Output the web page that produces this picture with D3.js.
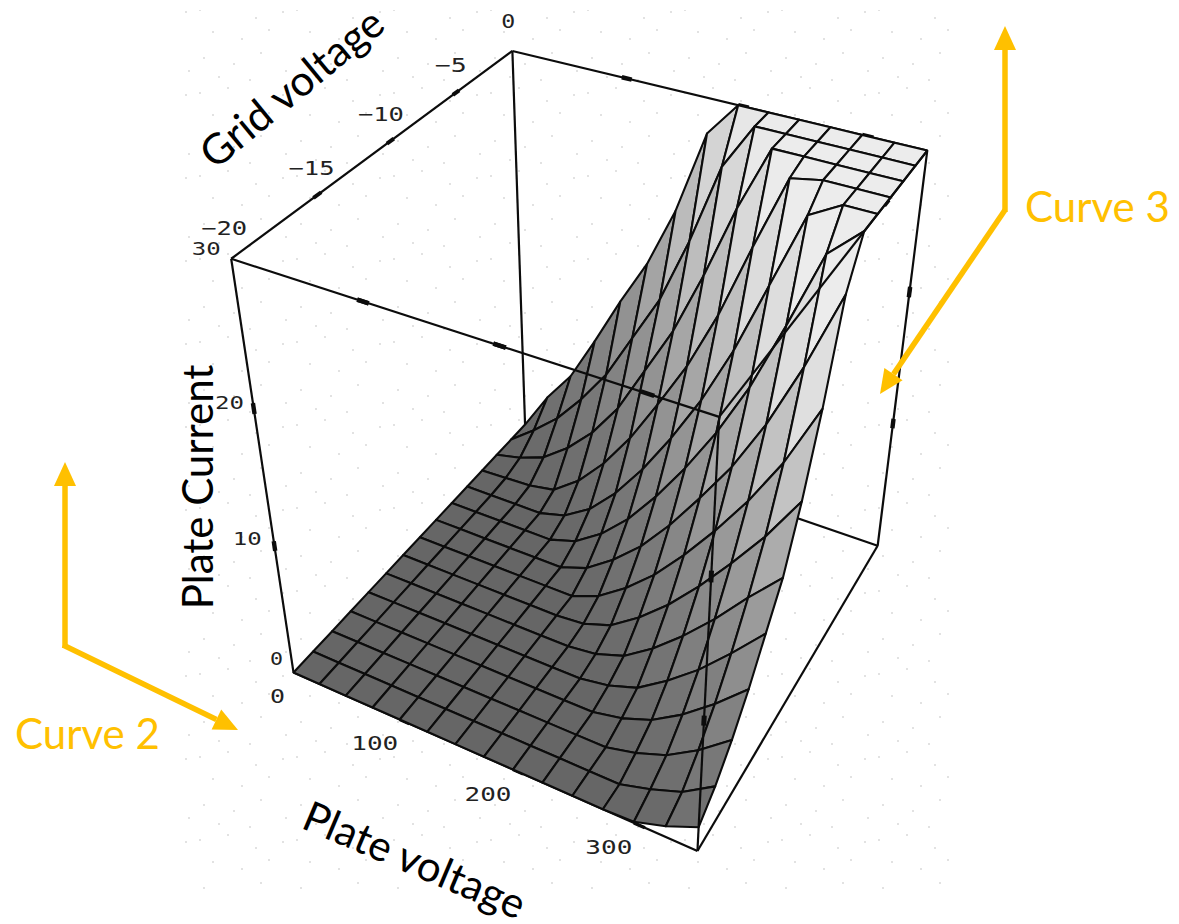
<!DOCTYPE html>
<html><head><meta charset="utf-8">
<script src="https://cdn.jsdelivr.net/npm/d3@7"></script>
<style>html,body{margin:0;padding:0;background:#fff}svg{display:block}</style>
</head><body><svg id="c" width="1179" height="924"></svg>
<script>
// ---- data ----
const plateVoltage = [0,25,50,75,100,125,150,175,200,225,250,275,300,325,350];
const gridVoltage = [-20,-18.57,-17.14,-15.71,-14.29,-12.86,-11.43,-10,-8.57,-7.14,-5.71,-4.29,-2.86,-1.43,0];
// plate current, one row per grid voltage (first row = -20 V, last row = 0 V)
const currentRows = [
 [0,0,0,0,0,0,0,0,0,0,0,0,0.1,0.9,2],
 [0,0,0,0,0,0,0,0,0,0,0,0,0.7,1.6,3.2],
 [0,0,0,0,0,0,0,0,0,0,0,0.6,1.5,3,4.9],
 [0,0,0,0,0,0,0,0,0,0,0.5,1.4,2.9,4.8,7],
 [0,0,0,0,0,0,0,0,0,0.4,1.2,2.8,4.7,7,9.5],
 [0,0,0,0,0,0,0,0,0.3,1.1,2.7,4.7,7,9.6,12],
 [0,0,0,0,0,0,0,0.2,1,2.6,4.6,7,9.7,12.6,16],
 [0,0,0,0,0,0,0,0.9,2.5,4.5,7,9.8,12.9,16.5,21],
 [0,0,0,0,0,0,0.8,2.4,4.4,7,10,13.2,17.1,21.8,27.2],
 [0,0,0,0,0,0.7,2.2,4.3,7,10.1,13.6,17.7,22.7,28,30],
 [0,0,0,0,0.6,2,4.2,7,10.3,14,18.4,23.6,28.8,30,30],
 [0,0.1,0.2,0.6,2.2,4.5,7.4,10.9,14.6,19.1,24.5,29.6,30,30,30],
 [0,0.5,1.3,2.9,5,7.8,11.6,15.4,20.2,25.5,30,30,30,30,30],
 [0,1.6,3.4,5.8,8.6,12.3,16,21,26.8,30,30,30,30,30,30],
 [0,3.2,5.8,9.5,13.4,17,21.6,27.6,30,30,30,30,30,30,30]
];
const plateTicks = [0,100,200,300];
const gridTicks = [0,-5,-10,-15,-20];
const currentTicks = [0,10,20,30];

// ---- scales: data to unit cube, unit cube to page through a fitted camera ----
const uS = d3.scaleLinear().domain([0,350]).range([0,1]);
const vS = d3.scaleLinear().domain([-20,0]).range([0,1]);
const wS = d3.scaleLinear().domain([0,30]).range([0,1]);
const boxCorners = [
 [0,0,0,293,672],[1,0,0,695,852],[1,1,0,878,545],[0,1,0,527,425],
 [0,0,1,232,260],[1,0,1,722,415],[1,1,1,927,152],[0,1,1,510,50]];
function fitCamera(pts){
  const A=[],b=[];
  pts.forEach(([X,Y,Z,x,y])=>{
    x/=1000;y/=1000;
    A.push([X,Y,Z,1,0,0,0,0,-x*X,-x*Y,-x*Z]);b.push(x);
    A.push([0,0,0,0,X,Y,Z,1,-y*X,-y*Y,-y*Z]);b.push(y);
  });
  const n=11,M=d3.range(n).map(r=>d3.range(n+1).map(c=>{
    let s=0;A.forEach((row,k)=>{s+=row[r]*(c<n?row[c]:b[k]);});return s;}));
  for(let i=0;i<n;i++){
    let p=i;for(let r=i+1;r<n;r++)if(Math.abs(M[r][i])>Math.abs(M[p][i]))p=r;
    [M[i],M[p]]=[M[p],M[i]];
    for(let r=0;r<n;r++)if(r!==i){const f=M[r][i]/M[i][i];for(let c=i;c<=n;c++)M[r][c]-=f*M[i][c];}
  }
  return M.map((r,i)=>r[n]/r[i]);
}
const P=fitCamera(boxCorners);
function proj(u,v,w){
  const d=P[8]*u+P[9]*v+P[10]*w+1;
  return [1000*(P[0]*u+P[1]*v+P[2]*w+P[3])/d,1000*(P[4]*u+P[5]*v+P[6]*w+P[7])/d];
}
const at=(V,G,I)=>proj(uS(V),vS(G),wS(I));

const svg=d3.select('#c');
const defs=svg.append('defs');
const pat=defs.append('pattern').attr('id','speck').attr('patternUnits','userSpaceOnUse').attr('width',97).attr('height',83);
[[5,9],[33,4],[61,17],[88,11],[18,31],[47,38],[74,29],[9,57],[39,63],[66,52],[91,70],[24,76],[55,79]].forEach(d=>
  pat.append('rect').attr('x',d[0]).attr('y',d[1]).attr('width',2).attr('height',2).attr('fill','#e2e2e2'));
svg.append('rect').attr('x',185).attr('y',10).attr('width',770).attr('height',880).attr('fill','url(#speck)');

const line=d3.line();
const K='#0c0c0c';
function edge(a,b,w){svg.append('path').attr('d',line([proj(...a),proj(...b)])).attr('fill','none').attr('stroke',K).attr('stroke-width',w||2.2);}
function tick(a,b,t,w){const p=proj(a[0]+(b[0]-a[0])*t,a[1]+(b[1]-a[1])*t,a[2]+(b[2]-a[2])*t),
  q=proj(a[0]+(b[0]-a[0])*(t+.025),a[1]+(b[1]-a[1])*(t+.025),a[2]+(b[2]-a[2])*(t+.025));
  svg.append('path').attr('d',line([p,q])).attr('stroke',K).attr('stroke-width',w||4.4);}

// back and floor edges (behind the surface)
edge([0,0,1],[0,1,1]);edge([0,1,1],[1,1,1]);edge([0,1,1],[0,1,0]);edge([0,1,0],[1,1,0]);
edge([1,1,0],[1,1,1]);edge([1,1,0],[1,0,0]);edge([0,0,0],[1,0,0]);edge([0,0,0],[0,0,1]);
plateTicks.slice(1).forEach(t=>{tick([0,1,1],[1,1,1],uS(t));tick([0,0,1],[1,0,1],uS(t));tick([0,0,0],[1,0,0],uS(t),3.4);});
gridTicks.slice(1,4).forEach(t=>{tick([0,0,1],[0,1,1],vS(t),4);tick([1,0,1],[1,1,1],vS(t));});
currentTicks.slice(1,3).forEach(t=>{tick([0,0,0],[0,0,1],wS(t));tick([1,1,0],[1,1,1],wS(t));tick([1,0,0],[1,0,1],wS(t),5);});

// surface, painted far to near
const grayOf=d3.scaleLinear().domain([0,136,150]).range([102,232,236]).clamp(true);
const surf=svg.append('g');
const cells=[];
for(let j=gridVoltage.length-2;j>=0;j--)for(let i=0;i<plateVoltage.length-1;i++)cells.push([i,j]);
surf.selectAll('path').data(cells).join('path')
 .attr('d',([i,j])=>line([[i,j],[i+1,j],[i+1,j+1],[i,j+1]].map(([a,b])=>at(plateVoltage[a],gridVoltage[b],currentRows[b][a])))+'Z')
 .attr('fill',([i,j])=>{
   const m=d3.mean([currentRows[j][i],currentRows[j][i+1],currentRows[j+1][i],currentRows[j+1][i+1]]);
   const g=Math.round(grayOf(m*(2.5+0.25*(i+.5))));return d3.rgb(g,g,g);})
 .attr('stroke',K).attr('stroke-width',2.1).attr('stroke-linejoin','round');

// front edges (over the surface)
edge([0,0,1],[1,0,1]);edge([1,0,1],[1,0,0]);edge([1,0,1],[1,1,1]);
plateTicks.slice(1).forEach(t=>tick([0,0,1],[1,0,1],uS(t)));
currentTicks.slice(1,3).forEach(t=>tick([1,0,0],[1,0,1],wS(t),5));

// tick labels
function tl(str,x,y,w,fs){svg.append('text').attr('x',x).attr('y',y).attr('text-anchor','middle').attr('dominant-baseline','central')
  .attr('font-family','DejaVu Sans Mono').attr('font-size',fs).attr('fill','#222').attr('textLength',w).attr('lengthAdjust','spacingAndGlyphs').text(str);}
plateTicks.forEach(t=>{const p=at(t,-20,0);tl(t,p[0]+(t?-25:-16),p[1]+(t?24:23),t?47:15,19);});
gridTicks.forEach(t=>{const p=at(0,t,30);tl(String(t).replace('-','\u2212'),p[0]-(t==0?4:t==-20?7:t==-5?2:6)+(t==-15?4:0),p[1]+(t==0?-30:t==-20?-31:-30),t==0?14:t==-5?32:46,20);});
currentTicks.forEach(t=>{const p=at(0,-20,t);tl(t,p[0]-(t==30?25:t==0?17:t==10?28:25),p[1]+(t==0?-14:t==30?-10:-12),t==0?13:29,18);});

// axis titles
const title=(s,x,y,r)=>svg.append('text').attr('transform',`translate(${x},${y}) rotate(${r})`).attr('text-anchor','middle').attr('dominant-baseline','central')
  .attr('font-family','Lato').attr('font-size',42).attr('fill','#000').text(s);
title('Grid voltage',291,87,-39.5);
title('Plate Current',197,487,-90);
title('Plate voltage',415,859,23);

// gold annotation arrows
const gold='#FFC000';
function arrow(a,b){
  const ang=Math.atan2(b[1]-a[1],b[0]-a[0]),L=24,W=11;
  const base=[b[0]-L*Math.cos(ang),b[1]-L*Math.sin(ang)];
  svg.append('path').attr('d',line([a,base])).attr('stroke',gold).attr('stroke-width',5.5).attr('fill','none');
  svg.append('path').attr('d',line([b,[base[0]+W*Math.sin(ang),base[1]-W*Math.cos(ang)],[base[0]-W*Math.sin(ang),base[1]+W*Math.cos(ang)]])+'Z').attr('fill',gold);
}
arrow([1005,212],[1005,26]);arrow([1005,210],[880,394]);
arrow([65,648],[65,462]);arrow([63,645],[238,730]);
const note=(s,x,y)=>svg.append('text').attr('x',x).attr('y',y).attr('dominant-baseline','central').attr('font-family','Lato').attr('font-size',42).attr('fill',gold).text(s);
note('Curve 3',1025,206);note('Curve 2',15,733);
</script></body></html>
